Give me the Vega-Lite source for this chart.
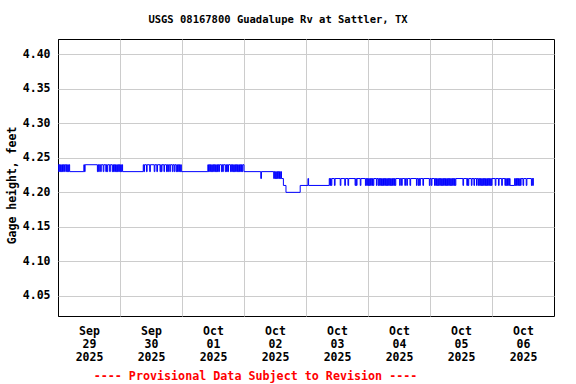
{
"$schema": "https://vega.github.io/schema/vega-lite/v6.json",
"width": 496, "height": 277,
"autosize": {"type": "none"},
"padding": {"left": 58, "top": 39, "right": 22, "bottom": 68},
"background": "white",
"title": {"text": "USGS 08167800 Guadalupe Rv at Sattler, TX", "font": "DejaVu Sans Mono", "fontSize": 10.5, "fontWeight": "bold", "color": "black", "anchor": "middle", "dx": -28, "offset": 6, "baseline": "alphabetic"},
"config": {"view": {"stroke": "black", "strokeWidth": 1}},
"data": {"values": [
{"t":"2025-09-29T00:00","v":4.24},{"t":"2025-09-29T00:15","v":4.23},{"t":"2025-09-29T00:30","v":4.24},{"t":"2025-09-29T00:45","v":4.23},{"t":"2025-09-29T01:00","v":4.24},{"t":"2025-09-29T01:15","v":4.23},{"t":"2025-09-29T01:30","v":4.24},{"t":"2025-09-29T01:45","v":4.23},{"t":"2025-09-29T02:00","v":4.24},{"t":"2025-09-29T02:15","v":4.23},{"t":"2025-09-29T02:30","v":4.24},{"t":"2025-09-29T03:00","v":4.23},{"t":"2025-09-29T03:15","v":4.24},{"t":"2025-09-29T03:30","v":4.23},{"t":"2025-09-29T03:45","v":4.24},{"t":"2025-09-29T04:00","v":4.23},{"t":"2025-09-29T04:15","v":4.24},{"t":"2025-09-29T04:30","v":4.23},
{"t":"2025-09-29T10:00","v":4.24},{"t":"2025-09-29T10:15","v":4.23},{"t":"2025-09-29T10:30","v":4.24},{"t":"2025-09-29T15:15","v":4.23},{"t":"2025-09-29T15:30","v":4.24},{"t":"2025-09-29T15:45","v":4.23},{"t":"2025-09-29T16:00","v":4.24},{"t":"2025-09-29T16:30","v":4.23},{"t":"2025-09-29T16:45","v":4.24},{"t":"2025-09-29T17:30","v":4.23},{"t":"2025-09-29T17:45","v":4.24},{"t":"2025-09-29T18:30","v":4.23},{"t":"2025-09-29T18:45","v":4.24},{"t":"2025-09-29T19:00","v":4.23},{"t":"2025-09-29T19:15","v":4.24},{"t":"2025-09-29T20:00","v":4.23},{"t":"2025-09-29T20:15","v":4.24},
{"t":"2025-09-29T21:00","v":4.23},{"t":"2025-09-29T21:15","v":4.24},{"t":"2025-09-29T21:30","v":4.23},{"t":"2025-09-29T21:45","v":4.24},{"t":"2025-09-29T22:00","v":4.23},{"t":"2025-09-29T22:15","v":4.24},{"t":"2025-09-29T22:30","v":4.23},{"t":"2025-09-29T22:45","v":4.24},{"t":"2025-09-29T23:00","v":4.23},{"t":"2025-09-29T23:15","v":4.24},{"t":"2025-09-29T23:30","v":4.23},{"t":"2025-09-29T23:45","v":4.24},
{"t":"2025-09-30T00:00","v":4.23},{"t":"2025-09-30T00:15","v":4.24},{"t":"2025-09-30T00:30","v":4.23},{"t":"2025-09-30T00:45","v":4.24},{"t":"2025-09-30T01:00","v":4.23},
{"t":"2025-09-30T09:00","v":4.24},{"t":"2025-09-30T09:15","v":4.23},{"t":"2025-09-30T09:30","v":4.24},{"t":"2025-09-30T10:15","v":4.23},{"t":"2025-09-30T10:30","v":4.24},{"t":"2025-09-30T11:30","v":4.23},{"t":"2025-09-30T11:45","v":4.24},{"t":"2025-09-30T13:15","v":4.23},{"t":"2025-09-30T13:30","v":4.24},{"t":"2025-09-30T14:15","v":4.23},{"t":"2025-09-30T14:30","v":4.24},{"t":"2025-09-30T15:30","v":4.23},{"t":"2025-09-30T15:45","v":4.24},{"t":"2025-09-30T16:00","v":4.23},{"t":"2025-09-30T16:15","v":4.24},{"t":"2025-09-30T17:00","v":4.23},{"t":"2025-09-30T17:15","v":4.24},{"t":"2025-09-30T18:00","v":4.23},{"t":"2025-09-30T18:15","v":4.24},{"t":"2025-09-30T18:30","v":4.23},{"t":"2025-09-30T18:45","v":4.24},{"t":"2025-09-30T19:15","v":4.23},{"t":"2025-09-30T19:30","v":4.24},{"t":"2025-09-30T20:15","v":4.23},{"t":"2025-09-30T20:30","v":4.24},{"t":"2025-09-30T21:00","v":4.23},{"t":"2025-09-30T21:15","v":4.24},{"t":"2025-09-30T21:45","v":4.23},{"t":"2025-09-30T22:00","v":4.24},{"t":"2025-09-30T22:15","v":4.23},{"t":"2025-09-30T22:30","v":4.24},{"t":"2025-09-30T22:45","v":4.23},{"t":"2025-09-30T23:00","v":4.24},{"t":"2025-09-30T23:15","v":4.23},{"t":"2025-09-30T23:30","v":4.24},{"t":"2025-09-30T23:45","v":4.23},
{"t":"2025-10-01T10:00","v":4.24},{"t":"2025-10-01T10:15","v":4.23},{"t":"2025-10-01T10:30","v":4.24},{"t":"2025-10-01T10:45","v":4.23},{"t":"2025-10-01T11:00","v":4.24},{"t":"2025-10-01T11:15","v":4.23},{"t":"2025-10-01T11:30","v":4.24},{"t":"2025-10-01T11:45","v":4.23},{"t":"2025-10-01T12:00","v":4.24},{"t":"2025-10-01T12:15","v":4.23},{"t":"2025-10-01T12:30","v":4.24},{"t":"2025-10-01T12:45","v":4.23},{"t":"2025-10-01T13:00","v":4.24},{"t":"2025-10-01T13:15","v":4.23},{"t":"2025-10-01T13:30","v":4.24},{"t":"2025-10-01T13:45","v":4.23},{"t":"2025-10-01T14:00","v":4.24},{"t":"2025-10-01T14:15","v":4.23},{"t":"2025-10-01T14:30","v":4.24},{"t":"2025-10-01T15:15","v":4.23},{"t":"2025-10-01T15:30","v":4.24},{"t":"2025-10-01T15:45","v":4.23},{"t":"2025-10-01T16:00","v":4.24},{"t":"2025-10-01T16:45","v":4.23},{"t":"2025-10-01T17:00","v":4.24},{"t":"2025-10-01T17:15","v":4.23},{"t":"2025-10-01T17:30","v":4.24},{"t":"2025-10-01T17:45","v":4.23},{"t":"2025-10-01T18:00","v":4.24},{"t":"2025-10-01T18:45","v":4.23},{"t":"2025-10-01T19:00","v":4.24},{"t":"2025-10-01T19:15","v":4.23},{"t":"2025-10-01T19:30","v":4.24},{"t":"2025-10-01T19:45","v":4.23},{"t":"2025-10-01T20:00","v":4.24},{"t":"2025-10-01T20:15","v":4.23},{"t":"2025-10-01T20:30","v":4.24},{"t":"2025-10-01T20:45","v":4.23},{"t":"2025-10-01T21:00","v":4.24},{"t":"2025-10-01T21:15","v":4.23},{"t":"2025-10-01T21:30","v":4.24},{"t":"2025-10-01T21:45","v":4.23},{"t":"2025-10-01T22:00","v":4.24},{"t":"2025-10-01T22:15","v":4.23},{"t":"2025-10-01T22:30","v":4.24},{"t":"2025-10-01T22:45","v":4.23},{"t":"2025-10-01T23:00","v":4.24},{"t":"2025-10-01T23:15","v":4.23},{"t":"2025-10-01T23:30","v":4.24},
{"t":"2025-10-02T00:00","v":4.23},{"t":"2025-10-02T06:30","v":4.22},{"t":"2025-10-02T06:45","v":4.23},{"t":"2025-10-02T11:30","v":4.22},{"t":"2025-10-02T11:45","v":4.23},{"t":"2025-10-02T12:00","v":4.22},{"t":"2025-10-02T12:15","v":4.23},{"t":"2025-10-02T12:30","v":4.22},{"t":"2025-10-02T12:45","v":4.23},{"t":"2025-10-02T13:00","v":4.22},{"t":"2025-10-02T13:15","v":4.23},{"t":"2025-10-02T13:30","v":4.22},{"t":"2025-10-02T13:45","v":4.23},{"t":"2025-10-02T14:00","v":4.22},{"t":"2025-10-02T14:15","v":4.23},{"t":"2025-10-02T14:30","v":4.22},{"t":"2025-10-02T15:15","v":4.21},{"t":"2025-10-02T16:15","v":4.20},{"t":"2025-10-02T21:45","v":4.21},
{"t":"2025-10-03T00:45","v":4.22},{"t":"2025-10-03T01:00","v":4.21},{"t":"2025-10-03T09:00","v":4.22},{"t":"2025-10-03T09:15","v":4.21},{"t":"2025-10-03T09:30","v":4.22},{"t":"2025-10-03T09:45","v":4.21},{"t":"2025-10-03T10:00","v":4.22},{"t":"2025-10-03T11:00","v":4.21},{"t":"2025-10-03T11:15","v":4.22},{"t":"2025-10-03T13:15","v":4.21},{"t":"2025-10-03T13:30","v":4.22},{"t":"2025-10-03T15:00","v":4.21},{"t":"2025-10-03T15:15","v":4.22},{"t":"2025-10-03T16:15","v":4.21},{"t":"2025-10-03T16:30","v":4.22},{"t":"2025-10-03T19:00","v":4.21},{"t":"2025-10-03T19:15","v":4.22},{"t":"2025-10-03T19:30","v":4.21},{"t":"2025-10-03T19:45","v":4.22},{"t":"2025-10-03T21:00","v":4.21},{"t":"2025-10-03T21:15","v":4.22},{"t":"2025-10-03T23:00","v":4.21},{"t":"2025-10-03T23:15","v":4.22},{"t":"2025-10-03T23:30","v":4.21},{"t":"2025-10-03T23:45","v":4.22},
{"t":"2025-10-04T00:00","v":4.21},{"t":"2025-10-04T00:15","v":4.22},{"t":"2025-10-04T00:30","v":4.21},{"t":"2025-10-04T00:45","v":4.22},{"t":"2025-10-04T01:00","v":4.21},{"t":"2025-10-04T01:15","v":4.22},{"t":"2025-10-04T01:30","v":4.21},{"t":"2025-10-04T01:45","v":4.22},{"t":"2025-10-04T02:00","v":4.21},{"t":"2025-10-04T02:15","v":4.22},{"t":"2025-10-04T03:15","v":4.21},{"t":"2025-10-04T03:30","v":4.22},{"t":"2025-10-04T04:00","v":4.21},{"t":"2025-10-04T04:15","v":4.22},{"t":"2025-10-04T04:30","v":4.21},{"t":"2025-10-04T04:45","v":4.22},{"t":"2025-10-04T05:00","v":4.21},{"t":"2025-10-04T05:15","v":4.22},{"t":"2025-10-04T05:30","v":4.21},{"t":"2025-10-04T05:45","v":4.22},{"t":"2025-10-04T06:00","v":4.21},{"t":"2025-10-04T06:15","v":4.22},{"t":"2025-10-04T06:30","v":4.21},{"t":"2025-10-04T06:45","v":4.22},{"t":"2025-10-04T07:00","v":4.21},{"t":"2025-10-04T07:15","v":4.22},{"t":"2025-10-04T07:30","v":4.21},{"t":"2025-10-04T07:45","v":4.22},{"t":"2025-10-04T08:00","v":4.21},{"t":"2025-10-04T08:15","v":4.22},{"t":"2025-10-04T08:30","v":4.21},{"t":"2025-10-04T08:45","v":4.22},{"t":"2025-10-04T09:00","v":4.21},{"t":"2025-10-04T09:15","v":4.22},{"t":"2025-10-04T09:30","v":4.21},{"t":"2025-10-04T09:45","v":4.22},{"t":"2025-10-04T10:00","v":4.21},{"t":"2025-10-04T10:15","v":4.22},{"t":"2025-10-04T10:30","v":4.21},{"t":"2025-10-04T10:45","v":4.22},{"t":"2025-10-04T12:15","v":4.21},{"t":"2025-10-04T12:30","v":4.22},{"t":"2025-10-04T13:00","v":4.21},{"t":"2025-10-04T13:15","v":4.22},{"t":"2025-10-04T14:15","v":4.21},{"t":"2025-10-04T14:30","v":4.22},{"t":"2025-10-04T15:00","v":4.21},{"t":"2025-10-04T15:15","v":4.22},{"t":"2025-10-04T16:15","v":4.21},{"t":"2025-10-04T16:30","v":4.22},{"t":"2025-10-04T18:45","v":4.21},{"t":"2025-10-04T19:00","v":4.22},{"t":"2025-10-04T19:30","v":4.21},{"t":"2025-10-04T19:45","v":4.22},{"t":"2025-10-04T20:00","v":4.21},{"t":"2025-10-04T20:15","v":4.22},{"t":"2025-10-04T21:15","v":4.21},{"t":"2025-10-04T21:30","v":4.22},{"t":"2025-10-04T23:45","v":4.21},
{"t":"2025-10-05T00:00","v":4.22},{"t":"2025-10-05T00:30","v":4.21},{"t":"2025-10-05T00:45","v":4.22},{"t":"2025-10-05T01:45","v":4.21},{"t":"2025-10-05T02:00","v":4.22},{"t":"2025-10-05T02:15","v":4.21},{"t":"2025-10-05T02:30","v":4.22},{"t":"2025-10-05T02:45","v":4.21},{"t":"2025-10-05T03:00","v":4.22},{"t":"2025-10-05T03:15","v":4.21},{"t":"2025-10-05T03:30","v":4.22},{"t":"2025-10-05T03:45","v":4.21},{"t":"2025-10-05T04:00","v":4.22},{"t":"2025-10-05T04:15","v":4.21},{"t":"2025-10-05T04:30","v":4.22},{"t":"2025-10-05T04:45","v":4.21},{"t":"2025-10-05T05:00","v":4.22},{"t":"2025-10-05T05:15","v":4.21},{"t":"2025-10-05T05:30","v":4.22},{"t":"2025-10-05T05:45","v":4.21},{"t":"2025-10-05T06:00","v":4.22},{"t":"2025-10-05T06:15","v":4.21},{"t":"2025-10-05T06:30","v":4.22},{"t":"2025-10-05T06:45","v":4.21},{"t":"2025-10-05T07:00","v":4.22},{"t":"2025-10-05T07:15","v":4.21},{"t":"2025-10-05T07:30","v":4.22},{"t":"2025-10-05T07:45","v":4.21},{"t":"2025-10-05T08:00","v":4.22},{"t":"2025-10-05T08:15","v":4.21},{"t":"2025-10-05T08:30","v":4.22},{"t":"2025-10-05T08:45","v":4.21},{"t":"2025-10-05T09:00","v":4.22},{"t":"2025-10-05T09:15","v":4.21},{"t":"2025-10-05T09:30","v":4.22},{"t":"2025-10-05T09:45","v":4.21},{"t":"2025-10-05T10:00","v":4.22},{"t":"2025-10-05T12:45","v":4.21},{"t":"2025-10-05T13:00","v":4.22},{"t":"2025-10-05T14:15","v":4.21},{"t":"2025-10-05T14:30","v":4.22},{"t":"2025-10-05T14:45","v":4.21},{"t":"2025-10-05T15:00","v":4.22},{"t":"2025-10-05T16:00","v":4.21},{"t":"2025-10-05T16:15","v":4.22},{"t":"2025-10-05T17:00","v":4.21},{"t":"2025-10-05T17:15","v":4.22},{"t":"2025-10-05T18:00","v":4.21},{"t":"2025-10-05T18:15","v":4.22},{"t":"2025-10-05T18:45","v":4.21},{"t":"2025-10-05T19:00","v":4.22},{"t":"2025-10-05T19:15","v":4.21},{"t":"2025-10-05T19:30","v":4.22},{"t":"2025-10-05T19:45","v":4.21},{"t":"2025-10-05T20:00","v":4.22},{"t":"2025-10-05T20:15","v":4.21},{"t":"2025-10-05T20:30","v":4.22},{"t":"2025-10-05T20:45","v":4.21},{"t":"2025-10-05T21:00","v":4.22},{"t":"2025-10-05T21:15","v":4.21},{"t":"2025-10-05T21:30","v":4.22},{"t":"2025-10-05T21:45","v":4.21},{"t":"2025-10-05T22:00","v":4.22},{"t":"2025-10-05T22:15","v":4.21},{"t":"2025-10-05T22:30","v":4.22},{"t":"2025-10-05T22:45","v":4.21},{"t":"2025-10-05T23:00","v":4.22},{"t":"2025-10-05T23:15","v":4.21},{"t":"2025-10-05T23:30","v":4.22},{"t":"2025-10-05T23:45","v":4.21},
{"t":"2025-10-06T00:00","v":4.22},{"t":"2025-10-06T01:15","v":4.21},{"t":"2025-10-06T01:30","v":4.22},{"t":"2025-10-06T02:30","v":4.21},{"t":"2025-10-06T02:45","v":4.22},{"t":"2025-10-06T03:45","v":4.21},{"t":"2025-10-06T04:00","v":4.22},{"t":"2025-10-06T05:00","v":4.21},{"t":"2025-10-06T05:15","v":4.22},{"t":"2025-10-06T05:30","v":4.21},{"t":"2025-10-06T05:45","v":4.22},{"t":"2025-10-06T06:00","v":4.21},{"t":"2025-10-06T06:15","v":4.22},{"t":"2025-10-06T06:30","v":4.21},{"t":"2025-10-06T06:45","v":4.22},{"t":"2025-10-06T07:00","v":4.21},{"t":"2025-10-06T08:45","v":4.22},{"t":"2025-10-06T09:00","v":4.21},{"t":"2025-10-06T09:15","v":4.22},{"t":"2025-10-06T09:30","v":4.21},{"t":"2025-10-06T09:45","v":4.22},{"t":"2025-10-06T10:00","v":4.21},{"t":"2025-10-06T10:15","v":4.22},{"t":"2025-10-06T10:30","v":4.21},{"t":"2025-10-06T10:45","v":4.22},{"t":"2025-10-06T11:00","v":4.21},{"t":"2025-10-06T11:15","v":4.22},{"t":"2025-10-06T12:00","v":4.21},{"t":"2025-10-06T12:15","v":4.22},{"t":"2025-10-06T13:15","v":4.21},{"t":"2025-10-06T13:30","v":4.22},{"t":"2025-10-06T15:15","v":4.21},{"t":"2025-10-06T15:30","v":4.22},{"t":"2025-10-06T15:45","v":4.21},{"t":"2025-10-06T16:00","v":4.22},{"t":"2025-10-06T16:15","v":4.22}
]},
"mark": {"type": "line", "interpolate": "step-after", "color": "#0000ff", "strokeWidth": 1},
"encoding": {
 "x": {"field": "t", "type": "temporal",
  "scale": {"domain": [{"year": 2025, "month": 9, "date": 29}, {"year": 2025, "month": 10, "date": 7}], "nice": false},
  "axis": {
   "values": [{"year": 2025, "month": 9, "date": 29}, {"year": 2025, "month": 9, "date": 30}, {"year": 2025, "month": 10, "date": 1}, {"year": 2025, "month": 10, "date": 2}, {"year": 2025, "month": 10, "date": 3}, {"year": 2025, "month": 10, "date": 4}, {"year": 2025, "month": 10, "date": 5}, {"year": 2025, "month": 10, "date": 6}],
   "labelExpr": "[timeFormat(datum.value, '%b'), timeFormat(datum.value, '%d'), timeFormat(datum.value, '%Y')]",
   "labelOffset": 31, "labelPadding": 9, "labelBaseline": "top", "labelLineHeight": 13,
   "labelFont": "DejaVu Sans Mono", "labelFontSize": 11.5, "labelFontWeight": "bold", "labelColor": "black",
   "labelFlush": false, "labelOverlap": false, "labelBound": false,
   "ticks": false, "domain": false, "grid": true,
   "gridColor": {"condition": {"test": "date(datum.value) == 29", "value": "black"}, "value": "#cccccc"},
   "title": "---- Provisional Data Subject to Revision ----",
   "titleColor": "#ff0000", "titleFont": "DejaVu Sans Mono", "titleFontSize": 11.7, "titleFontWeight": "bold",
   "titleX": 197, "titleY": 63, "titleAlign": "center", "titleBaseline": "alphabetic"
  }},
 "y": {"field": "v", "type": "quantitative",
  "scale": {"domain": [4.021, 4.422], "zero": false, "nice": false},
  "axis": {
   "values": [4.05, 4.1, 4.15, 4.2, 4.25, 4.3, 4.35, 4.4], "format": ".2f",
   "labelFont": "DejaVu Sans Mono", "labelFontSize": 11.5, "labelFontWeight": "bold", "labelColor": "black", "labelPadding": 8,
   "ticks": false, "domain": false, "grid": true, "gridColor": "#cccccc",
   "title": "Gage height, feet", "titleFont": "DejaVu Sans Mono", "titleFontSize": 11.5, "titleFontWeight": "bold", "titleColor": "black",
   "titleX": -46, "titleY": 146, "titleAlign": "center", "titleBaseline": "middle", "titleAngle": -90
  }}
}
}
